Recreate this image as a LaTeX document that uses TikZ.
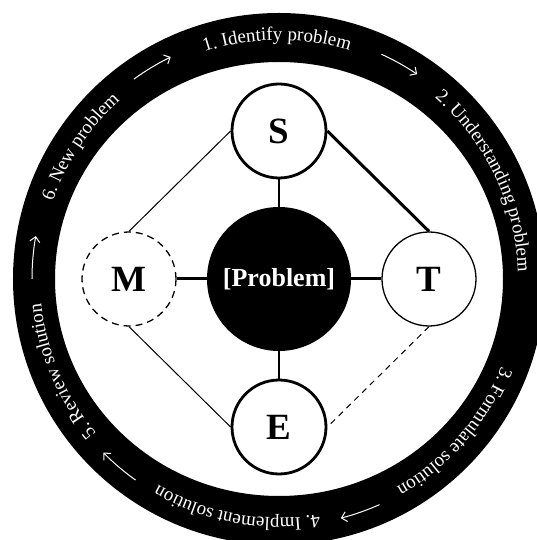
\documentclass[tikz,border=0pt]{standalone}
\usepackage{fontspec}
\setmainfont{Liberation Serif}
\usetikzlibrary{decorations.text, arrows.meta}
\newcommand\ringfont{\fontsize{19pt}{22pt}\selectfont}
\begin{document}
\begin{tikzpicture}[x=1pt,y=1pt,
  ringtext/.style={decorate, decoration={text along path, text align=center, text color=white, text={#1}}},
  ringarrow/.style={draw=white, line width=1pt, -{Straight Barb[length=5pt,width=10pt]}},
  letter/.style={circle, fill=white, inner sep=0pt, minimum size=94pt, font=\fontsize{37pt}{37pt}\selectfont\bfseries},
  heavy/.style={line width=3pt},
  light/.style={line width=1.3pt},
  fine/.style={line width=1pt}]
\useasboundingbox (-279,-261) rectangle (258,279);
% ring
\fill[black, even odd rule] (0,0) circle[radius=266] (0,0) ellipse[x radius=224, y radius=217];
% ring texts
\path[ringtext={|\ringfont|1. Identify problem}] (140.5:239) arc[start angle=140.5, end angle=40.5, radius=239];
\path[ringtext={|\ringfont|2. Understanding problem}] (75.5:239) arc[start angle=75.5, end angle=-24.5, radius=239];
\path[ringtext={|\ringfont|3. Formulate solution}] (9:239) arc[start angle=9, end angle=-91, radius=239];
\path[ringtext={|\ringfont|4. Implement solution}] (-50.3:239) arc[start angle=-50.3, end angle=-150.3, radius=239];
\path[ringtext={|\ringfont|5. Review solution}] (253:239) arc[start angle=253, end angle=153, radius=239];
\path[ringtext={|\ringfont|6. New problem}] (196.4:239) arc[start angle=196.4, end angle=96.4, radius=239];
% ring arrows
\draw[ringarrow] (126:247) arc[start angle=126, end angle=116, radius=247];
\draw[ringarrow] (65.5:247) arc[start angle=65.5, end angle=56, radius=247];
\draw[ringarrow] (-66:247) arc[start angle=-66, end angle=-75.5, radius=247];
\draw[ringarrow] (-125.5:247) arc[start angle=-125.5, end angle=-135.3, radius=247];
\draw[ringarrow] (180:247) arc[start angle=180, end angle=170, radius=247];
% nodes
\node[circle, fill=black, inner sep=0pt, minimum size=144pt, text=white, font=\fontsize{26pt}{26pt}\selectfont\bfseries] (P) at (0,0) {[Problem]};
\node[letter, draw, line width=2.8pt] (S) at (0,148) {S};
\node[letter, draw, line width=2.8pt] (E) at (0,-148) {E};
\node[letter, draw, line width=1.3pt] (T) at (150,0) {T};
\node[letter, draw, line width=1.3pt, dash pattern=on 7pt off 5pt] (M) at (-150,0) {M};
% connectors
\draw[light] (S) -- (P);
\draw[light] (E) -- (P);
\draw[heavy] (M) -- (P);
\draw[heavy] (T) -- (P);
\draw[heavy] (S.east) -- (T.north);
\draw[fine] (S.west) -- (M.north);
\draw[fine] (M.south) -- (E.west);
\draw[fine, dash pattern=on 6pt off 5pt] (T.south) -- (E.east);
\end{tikzpicture}
\end{document}
